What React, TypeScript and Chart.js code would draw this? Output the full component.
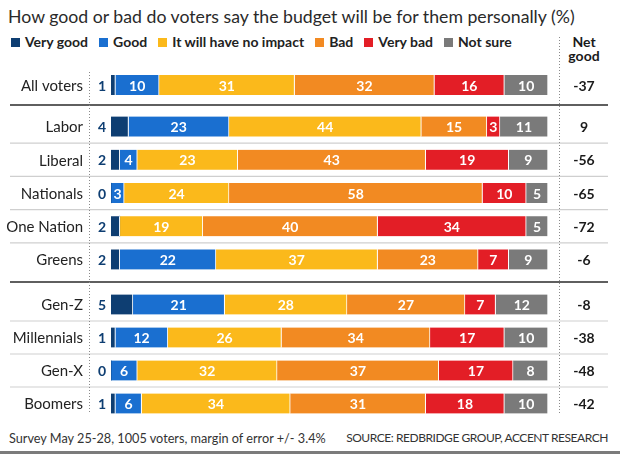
import React, { useEffect, useRef } from "react";
import { Chart, registerables } from "chart.js";

Chart.register(...registerables);

// ---------- data ----------
const rowsOverall = ["All voters"];
const rowsParty = ["Labor", "Liberal", "Nationals", "One Nation", "Greens"];
const rowsGeneration = ["Gen-Z", "Millennials", "Gen-X", "Boomers"];

const seriesNames = ["Very good", "Good", "It will have no impact", "Bad", "Very bad", "Not sure"];

// order: All voters, Labor, Liberal, Nationals, One Nation, Greens, Gen-Z, Millennials, Gen-X, Boomers
const veryGood = [1, 4, 2, 0, 2, 2, 5, 1, 0, 1];
const good = [10, 23, 4, 3, 0, 22, 21, 12, 6, 6];
const noImpact = [31, 44, 23, 24, 19, 37, 28, 26, 32, 34];
const bad = [32, 15, 43, 58, 40, 23, 27, 34, 37, 31];
const veryBad = [16, 3, 19, 10, 34, 7, 7, 17, 17, 18];
const notSure = [10, 11, 9, 5, 5, 9, 12, 10, 8, 10];
const netGood = [-37, 9, -56, -65, -72, -6, -8, -38, -48, -42];

const title = "How good or bad do voters say the budget will be for them personally (%)";
const footNote = "Survey May 25-28, 1005 voters, margin of error +/- 3.4%";
const sourceNote = "SOURCE: REDBRIDGE GROUP, ACCENT RESEARCH";

// ---------- styles ----------
const seriesColors = ["#0e3e72", "#1a6fd0", "#fbb91b", "#f28a22", "#e31e26", "#7a7a7a"];
const FONT = "Lato, 'Open Sans', sans-serif";
const allSeries = [veryGood, good, noImpact, bad, veryBad, notSure];

const rowDecor = {
  id: "rowDecor",
  beforeDatasetsDraw(chart: any, _args: any, opts: any) {
    const { ctx } = chart;
    const ys = chart.scales.y;
    const n = chart.data.labels.length;
    ctx.save();
    ctx.strokeStyle = "#cfcfcf";
    ctx.lineWidth = 1.2;
    for (let i = 0; i < n - 1; i++) {
      const yy = (ys.getPixelForValue(i) + ys.getPixelForValue(i + 1)) / 2;
      ctx.beginPath();
      ctx.moveTo(10, yy);
      ctx.lineTo(608, yy);
      ctx.stroke();
    }
    if (opts.bottomRule) {
      ctx.strokeStyle = "#2a2a2a";
      ctx.lineWidth = 1.5;
      const yy = chart.height - 1;
      ctx.beginPath();
      ctx.moveTo(10, yy);
      ctx.lineTo(608, yy);
      ctx.stroke();
    }
    ctx.restore();
  },
  afterDatasetsDraw(chart: any, _args: any, opts: any) {
    const { ctx, chartArea } = chart;
    const labels = chart.data.labels;
    ctx.save();
    ctx.textBaseline = "middle";
    // segment values
    ctx.font = `bold 14px ${FONT}`;
    ctx.fillStyle = "#ffffff";
    ctx.textAlign = "center";
    for (let d = 1; d < chart.data.datasets.length; d++) {
      const meta = chart.getDatasetMeta(d);
      meta.data.forEach((el: any, j: number) => {
        const v = chart.data.datasets[d].data[j];
        if (!v) return;
        const p = el.getProps(["x", "y", "base"], true);
        ctx.fillText(String(v), (p.x + p.base) / 2, p.y + 1);
      });
    }
    // very good values (outside left), row labels, net values
    const meta0 = chart.getDatasetMeta(0);
    meta0.data.forEach((el: any, j: number) => {
      const p = el.getProps(["y"], true);
      ctx.font = `bold 14px ${FONT}`;
      ctx.fillStyle = seriesColors[0];
      ctx.textAlign = "right";
      ctx.fillText(String(chart.data.datasets[0].data[j]), chartArea.left - 5, p.y + 1);
      ctx.font = `15px ${FONT}`;
      ctx.fillStyle = "#222222";
      ctx.fillText(labels[j], chartArea.left - 28, p.y + 1);
      ctx.font = `bold 14px ${FONT}`;
      ctx.fillStyle = "#1a1a1a";
      ctx.textAlign = "center";
      ctx.fillText(String(opts.net[j]), chartArea.right + 36, p.y + 1);
    });
    ctx.restore();
  },
};

type PanelProps = {
  rows: string[];
  offset: number;
  top: number;
  height: number;
  padTop: number;
  padBottom: number;
  bottomRule: boolean;
};

function Panel({ rows, offset, top, height, padTop, padBottom, bottomRule }: PanelProps) {
  const ref = useRef<HTMLCanvasElement | null>(null);
  useEffect(() => {
    if (!ref.current) return;
    const slice = (arr: number[]) => arr.slice(offset, offset + rows.length);
    const chart = new Chart(ref.current, {
      type: "bar",
      data: {
        labels: rows,
        datasets: allSeries.map((s, i) => ({
          label: seriesNames[i],
          data: slice(s),
          backgroundColor: seriesColors[i],
          borderColor: "#ffffff",
          borderWidth: { left: 0, right: 1, top: 0, bottom: 0 },
          borderSkipped: false,
          barThickness: 20,
        })),
      },
      options: {
        indexAxis: "y",
        animation: false,
        responsive: false,
        maintainAspectRatio: false,
        devicePixelRatio: 1,
        layout: { padding: { left: 111, right: 72, top: padTop, bottom: padBottom } },
        scales: {
          x: { stacked: true, min: 0, max: 100, display: false },
          y: { stacked: true, display: false },
        },
        plugins: {
          legend: { display: false },
          tooltip: { enabled: false },
          rowDecor: { net: slice(netGood), bottomRule },
        } as any,
      },
      plugins: [rowDecor],
    });
    return () => chart.destroy();
  }, []);
  return (
    <canvas
      ref={ref}
      width={620}
      height={height}
      style={{ position: "absolute", left: 0, top, width: 620, height }}
    />
  );
}

const dotted = (left: number, top: number, bottom: number): React.CSSProperties => ({
  position: "absolute",
  left,
  top,
  width: 1,
  height: bottom - top,
  background: "repeating-linear-gradient(to bottom, #8a8a8a 0px, #8a8a8a 1px, transparent 1px, transparent 3px)",
});

export default function App() {
  return (
    <div
      style={{
        position: "fixed",
        left: 0,
        top: 0,
        width: 620,
        height: 454,
        background: "#ffffff",
        fontFamily: FONT,
        color: "#222",
        overflow: "hidden",
      }}
    >
      <div style={{ position: "absolute", left: 8, top: 7, fontSize: 17.7, lineHeight: "20px", whiteSpace: "nowrap", color: "#2a2a2a" }}>
        {title}
      </div>
      <div
        style={{
          position: "absolute",
          left: 11,
          top: 34,
          display: "flex",
          gap: 11,
          fontSize: 14,
          fontWeight: 700,
          lineHeight: "16px",
          whiteSpace: "nowrap",
          color: "#222",
        }}
      >
        {seriesNames.map((n, i) => (
          <div key={n} style={{ display: "flex", alignItems: "center", gap: 5 }}>
            <span style={{ display: "inline-block", width: 9, height: 9, background: seriesColors[i] }} />
            <span>{n}</span>
          </div>
        ))}
      </div>
      <div
        style={{
          position: "absolute",
          left: 554,
          width: 60,
          top: 35,
          textAlign: "center",
          fontSize: 14,
          fontWeight: 700,
          lineHeight: "14px",
          color: "#1a1a1a",
        }}
      >
        Net
        <br />
        good
      </div>

      <Panel rows={rowsOverall} offset={0} top={64} height={42} padTop={0} padBottom={0} bottomRule={true} />
      <Panel rows={rowsParty} offset={1} top={106} height={177} padTop={4} padBottom={7} bottomRule={true} />
      <Panel rows={rowsGeneration} offset={6} top={283} height={138} padTop={5} padBottom={1} bottomRule={false} />

      <div style={dotted(89, 72, 414)} />
      <div style={dotted(559, 37, 414)} />

      <div style={{ position: "absolute", left: 9, top: 430, fontSize: 12.7, lineHeight: "16px", color: "#333", whiteSpace: "nowrap" }}>
        {footNote}
      </div>
      <div style={{ position: "absolute", right: 12, top: 430, fontSize: 12, letterSpacing: -0.45, lineHeight: "16px", color: "#333", whiteSpace: "nowrap" }}>
        {sourceNote}
      </div>
      <div style={{ position: "absolute", left: 0, top: 451, width: 620, height: 3, background: "#7b7b7b" }} />
    </div>
  );
}
